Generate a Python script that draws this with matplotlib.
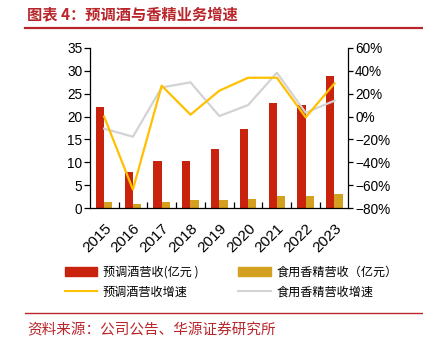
import matplotlib
matplotlib.use("Agg")
import matplotlib.pyplot as plt
import numpy as np
from matplotlib.ticker import FixedLocator, FuncFormatter
from matplotlib.lines import Line2D
from matplotlib.patches import Patch

years = ["2015", "2016", "2017", "2018", "2019", "2020", "2021", "2022", "2023"]
rtd_rev = [22.0, 8.0, 10.2, 10.4, 12.9, 17.2, 22.9, 22.5, 28.8]
flavor_rev = [1.3, 1.0, 1.4, 1.7, 1.8, 2.0, 2.7, 2.75, 3.2]
rtd_growth = [0.0, -63.6, 26.9, 1.6, 22.5, 33.8, 33.8, -0.7, 28.9]
flavor_growth = [-10.6, -17.6, 25.4, 29.8, 0.4, 10.0, 38.2, 3.3, 13.8]

labels = ["预调酒营收(亿元 )", "预调酒营收增速", "食用香精营收（亿元）", "食用香精营收增速"]
title = "图表 4：预调酒与香精业务增速"
source = "资料来源：公司公告、华源证券研究所"

RED = "#C9220D"
GOLD = "#D4A020"
YEL = "#FFC000"
GRAY = "#D3D3D3"
TRED = "#B8262B"

latin = ["Liberation Sans", "Noto Sans CJK SC"]
cjk = ["Noto Sans CJK SC", "Liberation Sans"]
plt.rcParams["font.family"] = latin

fig = plt.figure(figsize=(4.23, 3.52), dpi=100)
ax = fig.add_axes([90/423, 1-208.3/352, (348.3-90)/423, (208.3-47.7)/352])
ax2 = ax.twinx()

x = np.arange(len(years))
w = 0.29
ax.bar(x - w/2, rtd_rev, w, color=RED, zorder=2)
ax.bar(x + w/2, flavor_rev, w, color=GOLD, zorder=2)
ax.set_ylim(0, 35)
ax.set_xlim(-0.49, 8.48)
ax.set_yticks(np.arange(0, 36, 5))

ax2.plot(x, flavor_growth, color=GRAY, lw=1.6, zorder=3)
ax2.plot(x, rtd_growth, color=YEL, lw=1.6, zorder=4)
ax2.set_ylim(-80, 60)
ax2.set_yticks(np.arange(-80, 61, 20))
ax2.yaxis.set_major_formatter(FuncFormatter(lambda v, p: (f"{v:.0f}%").replace("-", "\u2212")))

for a in (ax, ax2):
    a.spines["top"].set_visible(False)
    for s in a.spines.values():
        s.set_linewidth(0.9)
ax2.spines["left"].set_visible(False)
ax2.spines["bottom"].set_visible(False)
ax.spines["right"].set_visible(False)

ax.set_xticks(x)
ax.set_xticklabels(years, rotation=45, ha="right", va="top", rotation_mode="anchor", fontsize=11)
ax.tick_params(axis="x", length=0, pad=9)
ax.xaxis.set_minor_locator(FixedLocator(np.arange(0.5, 8.0, 1)))
ax.tick_params(axis="x", which="minor", direction="in", length=4, width=0.9)
ax.tick_params(axis="y", direction="out", length=4, width=0.9, labelsize=9.8, pad=1.5)
ax2.tick_params(axis="y", direction="out", length=3.5, width=0.9, labelsize=9.8, pad=1.5)

handles = [Patch(color=RED), Line2D([], [], color=YEL, lw=1.5),
           Patch(color=GOLD), Line2D([], [], color=GRAY, lw=1.5)]
fig.legend(handles, labels, ncol=2, loc="upper left", bbox_to_anchor=(60/423, 1-261/352),
           frameon=False, prop={"family": cjk, "size": 8.7}, handlelength=2.7, handleheight=0.7,
           handletextpad=0.45, columnspacing=3.3, labelspacing=0.55, borderaxespad=0)

fig.text(27/423, 1-14/352, title, family=cjk, fontsize=11, color=TRED, weight="bold", va="center", ha="left")
fig.add_artist(Line2D([25/423, 1], [1-28/352, 1-28/352], color=TRED, lw=1.6))
fig.add_artist(Line2D([25/423, 1], [1-313/352, 1-313/352], color=TRED, lw=1.0))
fig.text(27/423, 1-330/352, source, family=cjk, fontsize=10.5, color=TRED, va="center", ha="left")

fig.savefig("out.png", dpi=100)
